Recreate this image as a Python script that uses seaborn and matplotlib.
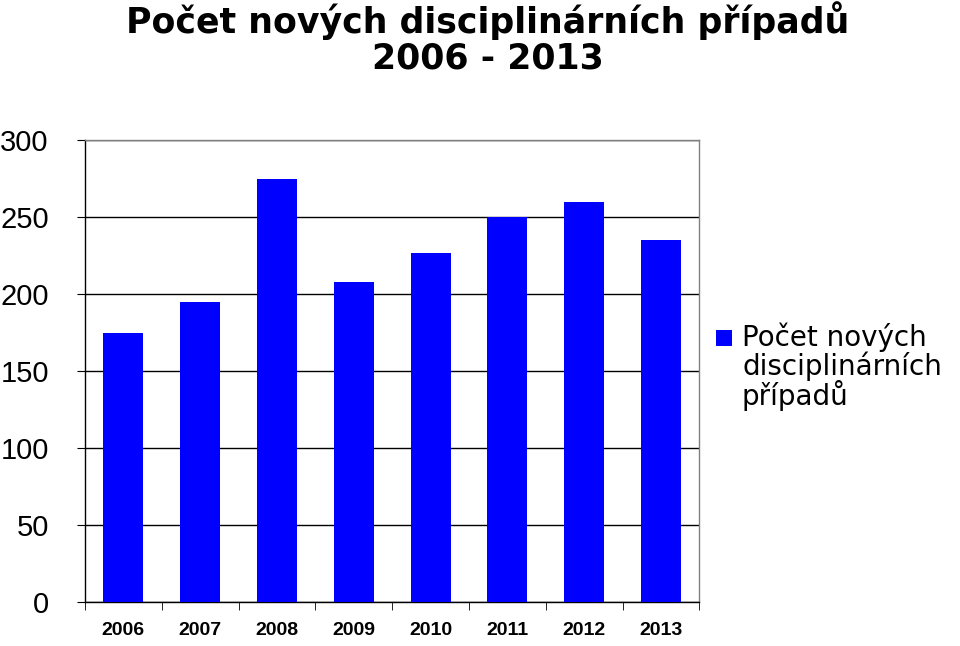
import matplotlib
matplotlib.use("Agg")
import matplotlib.pyplot as plt
import seaborn as sns
import pandas as pd
from matplotlib.patches import Rectangle

years = ["2006", "2007", "2008", "2009", "2010", "2011", "2012", "2013"]
values = [175, 195, 275, 208, 227, 250, 260, 235]
series_name = "Počet nových\ndisciplinárních\npřípadů"
yticks = [0, 50, 100, 150, 200, 250, 300]

df = pd.DataFrame({"year": years, "value": values})
fig = plt.figure(figsize=(9.6, 6.46), dpi=100)
ax = fig.add_axes([0.0885, 0.068, 0.64, 0.715])
sns.barplot(data=df, x="year", y="value", color="#0000FF", width=0.52, saturation=1, ax=ax, zorder=3)
ax.set_ylim(0, 300)
ax.set_xlim(-0.5, len(years) - 0.5)
ax.set_yticks(yticks)
ax.set_yticklabels([str(t) for t in yticks], fontsize=21, fontfamily="Liberation Sans")
ax.set_xticks([i + 0.5 for i in range(-1, len(years))], minor=True)
ax.tick_params(axis="x", which="major", length=0, labelsize=14, pad=14)
ax.tick_params(axis="x", which="minor", length=6, color="black")
ax.tick_params(axis="y", length=6, color="black", pad=20)
for lab in ax.get_xticklabels():
    lab.set_fontweight("bold"); lab.set_fontfamily("Liberation Sans")
ax.yaxis.grid(True, color="black", linewidth=1, zorder=0)
ax.set_axisbelow(True)
for s in ax.spines.values():
    s.set_color("black"); s.set_linewidth(1)
ax.spines["top"].set_color("#808080")
ax.spines["right"].set_color("#808080")
ax.set_xlabel(""); ax.set_ylabel("")
fig.text(0.508, 0.998, "Počet nových disciplinárních případů\n2006 - 2013", ha="center", va="top",
         fontsize=25, fontweight="bold", fontfamily="DejaVu Sans", linespacing=1.05)
# legend
fig.patches.append(Rectangle((716 / 960, 1 - 346 / 646), 16 / 960, 16 / 646,
                             transform=fig.transFigure, facecolor="#0000FF", edgecolor="none"))
fig.text(742 / 960, 1 - 323 / 646, series_name, ha="left", va="top", fontsize=20,
         fontfamily="DejaVu Sans", linespacing=0.95)
fig.savefig("out.png", dpi=100)
